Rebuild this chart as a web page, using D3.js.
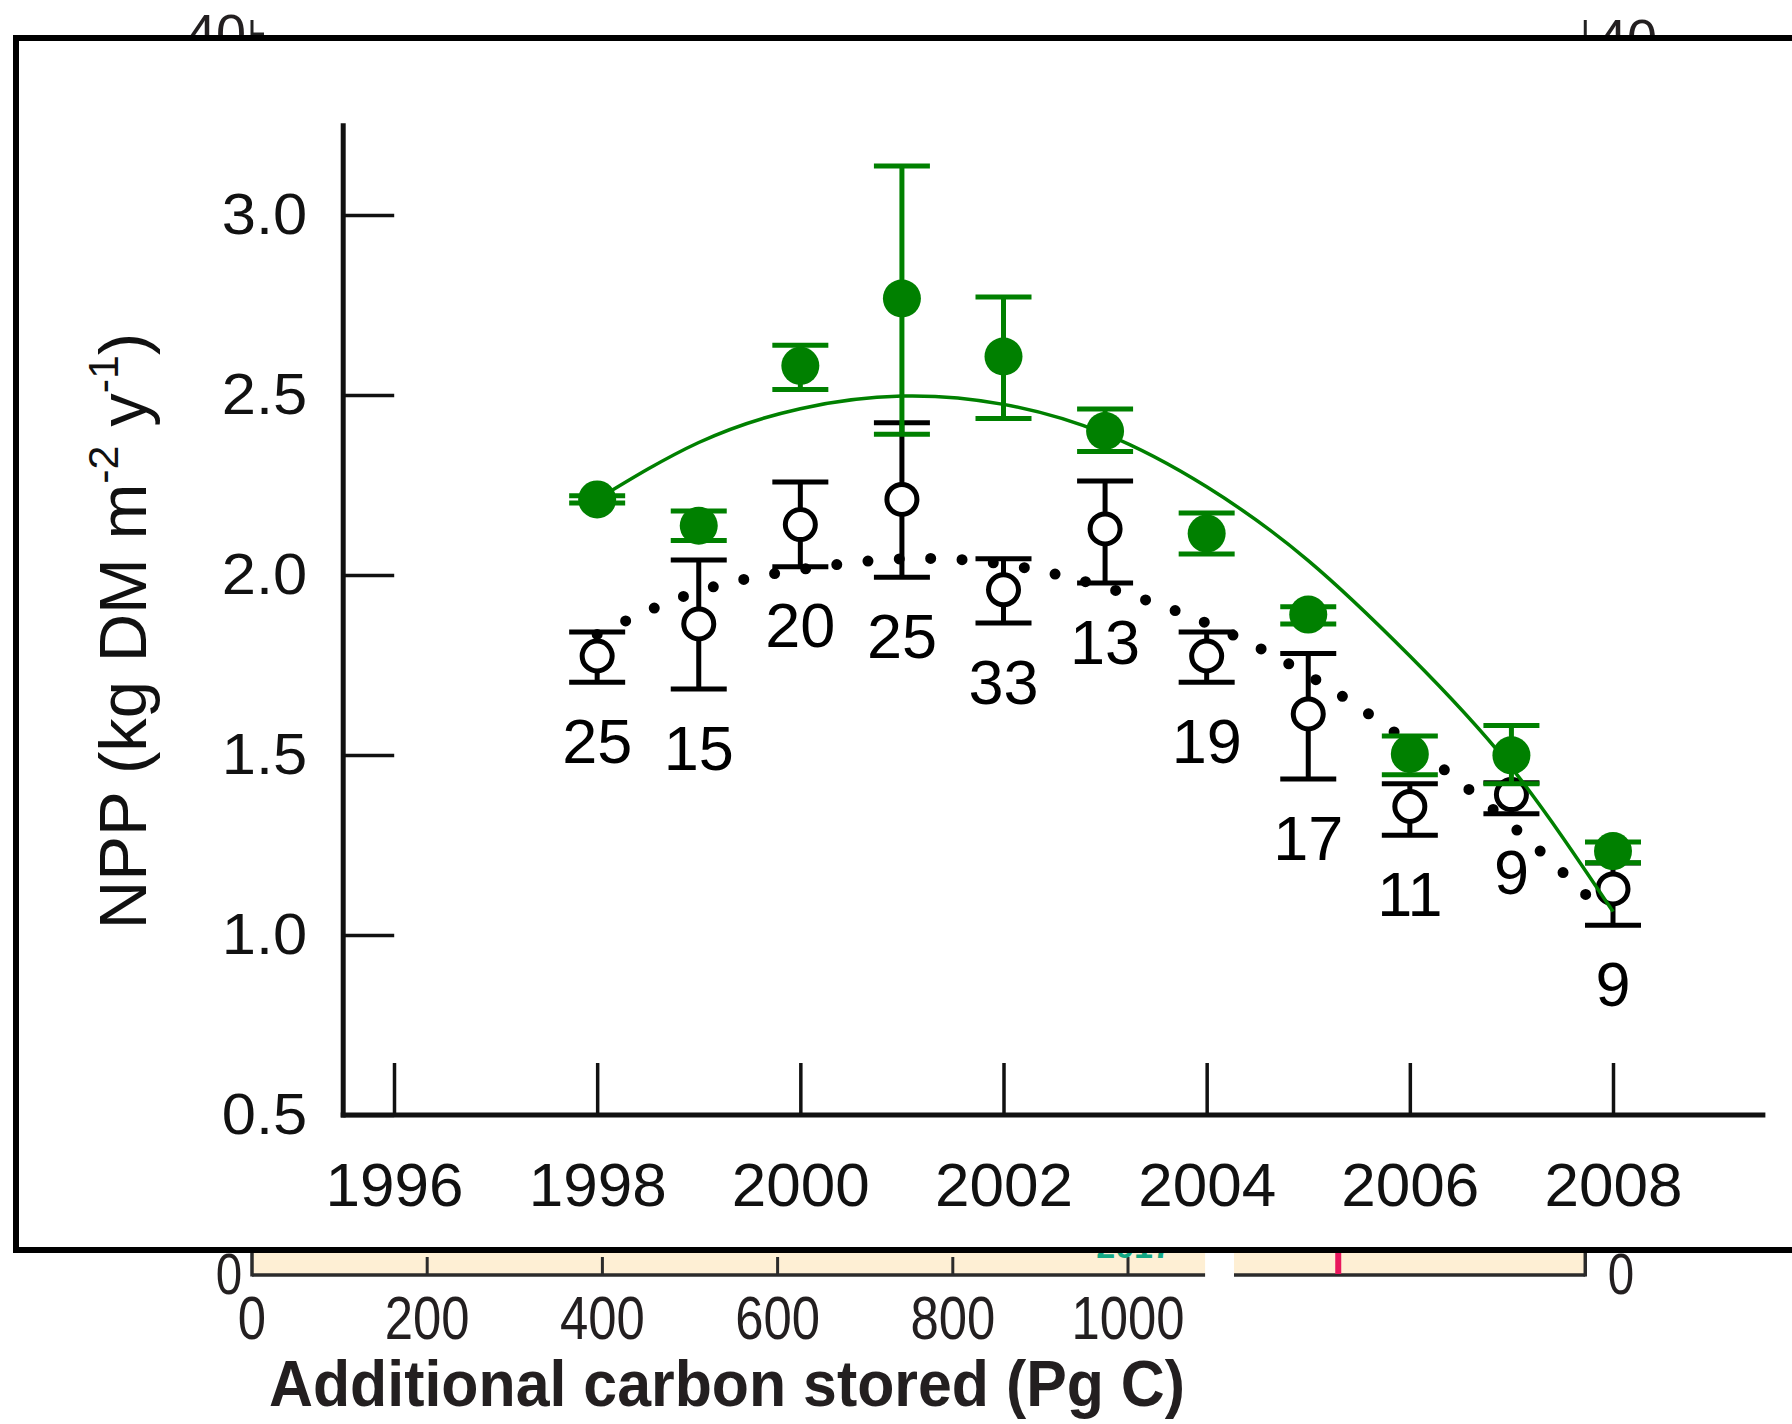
<!DOCTYPE html>
<html>
<head>
<meta charset="utf-8">
<script src="https://cdn.jsdelivr.net/npm/d3@7"></script>
<style>
  body { margin: 0; background: #fff; }
  svg { display: block; font-family: "Liberation Sans", Arial, sans-serif; }
</style>
</head>
<body>
<svg id="chart" width="1792" height="1424"></svg>
<script>
// ---- inset data: NPP per year ----
const years = [1998, 1999, 2000, 2001, 2002, 2003, 2004, 2005, 2006, 2007, 2008];

// open circles (black)
const openMean = [1.775, 1.864, 2.140, 2.210, 1.959, 2.128, 1.775, 1.614, 1.357, 1.390, 1.128];
const openLow  = [1.702, 1.683, 2.023, 1.994, 1.867, 1.978, 1.702, 1.433, 1.277, 1.337, 1.027];
const openHigh = [1.842, 2.042, 2.258, 2.423, 2.045, 2.261, 1.842, 1.782, 1.420, 1.423, 1.200];
const counts   = [25, 15, 20, 25, 33, 13, 19, 17, 11, 9, 9];

// filled circles (green)
const greenMean = [2.210, 2.137, 2.581, 2.768, 2.607, 2.400, 2.115, 1.890, 1.503, 1.499, 1.233];
const greenLow  = [2.200, 2.096, 2.515, 2.391, 2.435, 2.343, 2.058, 1.864, 1.445, 1.420, 1.201];
const greenHigh = [2.220, 2.178, 2.638, 3.136, 2.772, 2.461, 2.172, 1.912, 1.553, 1.582, 1.258];

// fitted curves
const greenFitYears = [1998, 1999, 2000, 2001, 2002, 2003, 2004, 2005, 2006, 2007, 2008];
const greenFit      = [2.210, 2.368, 2.462, 2.497, 2.474, 2.392, 2.245, 2.040, 1.775, 1.465, 1.065];
const dotFitYears = [1998, 1999, 2000, 2001, 2002, 2003, 2004, 2005, 2006, 2007, 2007.85];
const dotFit      = [1.835, 1.955, 2.015, 2.045, 2.030, 1.966, 1.866, 1.722, 1.532, 1.305, 1.080];

const yTicks = [0.5, 1.0, 1.5, 2.0, 2.5, 3.0];
const xTicks = [1996, 1998, 2000, 2002, 2004, 2006, 2008];

// ---- background chart (mostly hidden behind the inset) ----
const carbonTicks = [0, 200, 400, 600, 800, 1000];
const barSegments = [[0, 1088], [1121, 1522]];
const redMarker = 1240;

const svg = d3.select("#chart");
const green = "#008000";

// background scale
let xc = d3.scaleLinear().domain([0, 1000]).range([252, 1128]);
let bg = svg.append("g");

bg.selectAll("rect.bar")
    .data(barSegments)
    .enter().append("rect")
    .attr("x", d => xc(d[0]))
    .attr("width", d => xc(d[1]) - xc(d[0]))
    .attr("y", 1200)
    .attr("height", 75)
    .attr("fill", "#feefd4");

bg.selectAll("line.base")
    .data(barSegments)
    .enter().append("line")
    .attr("x1", d => xc(d[0]))
    .attr("x2", d => xc(d[1]))
    .attr("y1", 1275).attr("y2", 1275)
    .attr("stroke", "#2b2b2b").attr("stroke-width", 3.5);

// left and right axis of background chart
[xc(barSegments[0][0]), xc(barSegments[1][1])].forEach(x => {
    bg.append("line").attr("x1", x).attr("x2", x).attr("y1", 20).attr("y2", 70)
        .attr("stroke", "#222").attr("stroke-width", 3);
    bg.append("line").attr("x1", x).attr("x2", x).attr("y1", 1230).attr("y2", 1276.5)
        .attr("stroke", "#2b2b2b").attr("stroke-width", 3.5);
});
bg.append("line").attr("x1", xc(0)).attr("x2", xc(0) + 12).attr("y1", 34).attr("y2", 34)
    .attr("stroke", "#222").attr("stroke-width", 3);

bg.selectAll("line.ctick")
    .data(carbonTicks.slice(1))
    .enter().append("line")
    .attr("x1", d => xc(d)).attr("x2", d => xc(d))
    .attr("y1", 1257).attr("y2", 1275)
    .attr("stroke", "#2b2b2b").attr("stroke-width", 3);

bg.append("line")
    .attr("x1", xc(redMarker)).attr("x2", xc(redMarker))
    .attr("y1", 1240).attr("y2", 1274)
    .attr("stroke", "#e8175d").attr("stroke-width", 6);

bg.append("text")
    .attr("x", xc(1007)).attr("y", 1258)
    .attr("text-anchor", "middle")
    .attr("font-size", 34).attr("font-weight", "bold")
    .attr("fill", "#13a884")
    .text("2017");

bg.selectAll("text.clab")
    .data(carbonTicks)
    .enter().append("text")
    .attr("transform", d => "translate(" + xc(d) + ",1339) scale(0.82,1)")
    .attr("text-anchor", "middle")
    .attr("font-size", 62)
    .attr("fill", "#231f20")
    .text(d => d);

bg.append("text")
    .attr("transform", "translate(229,1294) scale(0.82,1)")
    .attr("text-anchor", "middle").attr("font-size", 58).attr("fill", "#231f20")
    .text("0");
bg.append("text")
    .attr("transform", "translate(1621,1294) scale(0.82,1)")
    .attr("text-anchor", "middle").attr("font-size", 58).attr("fill", "#231f20")
    .text("0");

bg.append("text").attr("x", 246).attr("y", 52).attr("text-anchor", "end")
    .attr("font-size", 54).attr("fill", "#231f20").text("40");
bg.append("text").attr("x", 1597).attr("y", 57).attr("text-anchor", "start")
    .attr("font-size", 54).attr("fill", "#231f20").text("40");

bg.append("text")
    .attr("x", 727).attr("y", 1406)
    .attr("text-anchor", "middle")
    .attr("font-size", 65).attr("font-weight", "bold")
    .attr("textLength", 916).attr("lengthAdjust", "spacingAndGlyphs")
    .attr("fill", "#231f20")
    .text("Additional carbon stored (Pg C)");

// ---- inset frame ----
svg.append("rect")
    .attr("x", 16).attr("y", 38)
    .attr("width", 1800).attr("height", 1212)
    .attr("fill", "#fff")
    .attr("stroke", "#000").attr("stroke-width", 6);

// ---- inset scales and axes ----
let x = d3.scaleLinear().domain([1996, 2008]).range([394, 1613]);
let y = d3.scaleLinear().domain([0.5, 3.0]).range([1115, 215]);
let g = svg.append("g");

let yAxis = g.append("g")
    .attr("transform", "translate(" + x(1995.5) + ",0)")
    .call(d3.axisLeft(y).tickValues(yTicks).tickFormat(d3.format(".1f"))
        .tickSize(-51).tickSizeOuter(0).tickPadding(34));
yAxis.select(".domain").remove();
yAxis.selectAll(".tick line").attr("stroke", "#111").attr("stroke-width", 3.5);
yAxis.selectAll(".tick text").attr("font-size", 58).attr("fill", "#111")
    .attr("font-family", "Liberation Sans, Arial, sans-serif")
    .attr("transform", "scale(1.06,1)");

let xAxis = g.append("g")
    .attr("transform", "translate(0," + y(0.5) + ")")
    .call(d3.axisBottom(x).tickValues(xTicks).tickFormat(d3.format("d"))
        .tickSize(-52).tickSizeOuter(0).tickPadding(47));
xAxis.select(".domain").remove();
xAxis.selectAll(".tick line").attr("stroke", "#111").attr("stroke-width", 3.5);
xAxis.selectAll(".tick text").attr("font-size", 62).attr("fill", "#111")
    .attr("font-family", "Liberation Sans, Arial, sans-serif");

// axis lines
g.append("line")
    .attr("x1", x(1995.5)).attr("x2", x(1995.5))
    .attr("y1", y(3.255)).attr("y2", y(0.5) + 2.5)
    .attr("stroke", "#111").attr("stroke-width", 5);
g.append("line")
    .attr("x1", x(1995.5) - 2.5).attr("x2", x(2009.5))
    .attr("y1", y(0.5)).attr("y2", y(0.5))
    .attr("stroke", "#111").attr("stroke-width", 5);

// y title
let yTitle = g.append("text")
    .attr("transform", "translate(146,631) rotate(-90)")
    .attr("text-anchor", "middle")
    .attr("font-size", 67)
    .attr("fill", "#111");
yTitle.append("tspan").text("NPP (kg DM m");
yTitle.append("tspan").attr("dy", -28).attr("font-size", 43).text("-2");
yTitle.append("tspan").attr("dy", 28).text(" y");
yTitle.append("tspan").attr("dy", -28).attr("font-size", 43).text("-1");
yTitle.append("tspan").attr("dy", 28).text(")");

// error bars helper
function errorBars(sel, low, high, color) {
    let bars = sel.selectAll(null).data(years).enter().append("g");
    bars.append("line")
        .attr("x1", d => x(d)).attr("x2", d => x(d))
        .attr("y1", (d, i) => y(low[i])).attr("y2", (d, i) => y(high[i]));
    bars.append("line")
        .attr("x1", d => x(d) - 28).attr("x2", d => x(d) + 28)
        .attr("y1", (d, i) => y(low[i])).attr("y2", (d, i) => y(low[i]));
    bars.append("line")
        .attr("x1", d => x(d) - 28).attr("x2", d => x(d) + 28)
        .attr("y1", (d, i) => y(high[i])).attr("y2", (d, i) => y(high[i]));
    bars.selectAll("line").attr("stroke", color).attr("stroke-width", 5);
}

// black series
let black = g.append("g");
errorBars(black, openLow, openHigh, "#000");
black.selectAll("circle")
    .data(years).enter().append("circle")
    .attr("cx", d => x(d))
    .attr("cy", (d, i) => y(openMean[i]))
    .attr("r", 15)
    .attr("fill", "#fff")
    .attr("stroke", "#000").attr("stroke-width", 5);

// sample sizes
g.selectAll("text.count")
    .data(years).enter().append("text")
    .attr("x", d => x(d))
    .attr("y", (d, i) => y(openLow[i]) + 58)
    .attr("dy", "0.36em")
    .attr("text-anchor", "middle")
    .attr("font-size", 63)
    .attr("fill", "#000")
    .text((d, i) => counts[i]);

// dotted fit
let dotData = dotFitYears.map((d, i) => [d, dotFit[i]]);
g.append("path")
    .datum(dotData)
    .attr("d", d3.line().x(d => x(d[0])).y(d => y(d[1])).curve(d3.curveNatural))
    .attr("fill", "none")
    .attr("stroke", "#000")
    .attr("stroke-width", 11)
    .attr("stroke-linecap", "round")
    .attr("stroke-dasharray", "0 31.4");

// green series
let grn = g.append("g");
errorBars(grn, greenLow, greenHigh, green);
grn.selectAll("circle")
    .data(years).enter().append("circle")
    .attr("cx", d => x(d))
    .attr("cy", (d, i) => y(greenMean[i]))
    .attr("r", 19)
    .attr("fill", green);

let greenData = greenFitYears.map((d, i) => [d, greenFit[i]]);
g.append("path")
    .datum(greenData)
    .attr("d", d3.line().x(d => x(d[0])).y(d => y(d[1])).curve(d3.curveNatural))
    .attr("fill", "none")
    .attr("stroke", green)
    .attr("stroke-width", 3.5);
</script>
</body>
</html>
